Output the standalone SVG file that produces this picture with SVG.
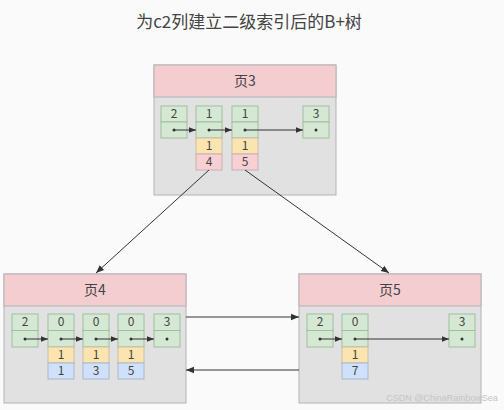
<svg xmlns="http://www.w3.org/2000/svg" width="504" height="410" viewBox="0 0 504 410">
<defs>
<marker id="ah" viewBox="0 0 10 10" refX="10" refY="5" markerWidth="7" markerHeight="7" orient="auto" markerUnits="userSpaceOnUse"><path d="M0,1 L10,5 L0,9 z" fill="#333"/></marker>
<marker id="ah2" viewBox="0 0 10 10" refX="10" refY="5" markerWidth="8" markerHeight="8" orient="auto" markerUnits="userSpaceOnUse"><path d="M0,1 L10,5 L0,9 z" fill="#333"/></marker>
</defs>
<style>
text{font-family:"Noto Sans CJK SC","Noto Sans",sans-serif;fill:#444;text-anchor:middle}
.t{font-size:12px}
.h{font-size:14px}
.hdr{fill:#f4cdd0;stroke:#b3b3b3;stroke-width:1}
.body{fill:#e1e1e1;stroke:#b3b3b3;stroke-width:1}
.g{fill:#d5e8d4;stroke:#9fbf9f;stroke-width:1}
.o{fill:#fce4b0;stroke:#c8c0a8;stroke-width:1}
.p{fill:#f8cfd2;stroke:#c8b0b2;stroke-width:1}
.b{fill:#cfe0fb;stroke:#a8b8d0;stroke-width:1}
.dot{fill:#333}
.ln{stroke:#333;stroke-width:1;fill:none}
</style>
<rect width="504" height="410" fill="#fafafa"/>
<text x="249" y="28" style="font-size:17px">为c2列建立二级索引后的B+树</text>

<g id="page3">
<rect class="body" x="154" y="65" width="182" height="130"/>
<rect class="hdr" x="154" y="65" width="182" height="32"/>
<text class="h" x="245" y="86">页3</text>
<rect class="g" x="161" y="106" width="26" height="16"/><rect class="g" x="161" y="122" width="26" height="16"/>
<text class="t" x="174" y="118">2</text><circle class="dot" cx="174" cy="130" r="1.5"/>
<rect class="g" x="196" y="106" width="26" height="16"/><rect class="g" x="196" y="122" width="26" height="16"/>
<rect class="o" x="196" y="138" width="26" height="16"/><rect class="p" x="196" y="154" width="26" height="16"/>
<text class="t" x="209" y="118">1</text><circle class="dot" cx="209" cy="130" r="1.5"/>
<text class="t" x="209" y="150">1</text><text class="t" x="209" y="166">4</text>
<rect class="g" x="232" y="106" width="26" height="16"/><rect class="g" x="232" y="122" width="26" height="16"/>
<rect class="o" x="232" y="138" width="26" height="16"/><rect class="p" x="232" y="154" width="26" height="16"/>
<text class="t" x="245" y="118">1</text><circle class="dot" cx="245" cy="130" r="1.5"/>
<text class="t" x="245" y="150">1</text><text class="t" x="245" y="166">5</text>
<rect class="g" x="303" y="106" width="26" height="16"/><rect class="g" x="303" y="122" width="26" height="16"/>
<text class="t" x="316" y="118">3</text><circle class="dot" cx="316" cy="130" r="1.5"/>
</g>

<g id="page4">
<rect class="body" x="4" y="274" width="182" height="129"/>
<rect class="hdr" x="4" y="274" width="182" height="32"/>
<text class="h" x="95" y="295">页4</text>
<rect class="g" x="12" y="314" width="26" height="16.5"/><rect class="g" x="12" y="330.5" width="26" height="16.5"/>
<text class="t" x="25" y="326">2</text><circle class="dot" cx="25" cy="339" r="1.5"/>
<rect class="g" x="48" y="314" width="26" height="16.5"/><rect class="g" x="48" y="330.5" width="26" height="16.5"/>
<rect class="o" x="48" y="347" width="26" height="16"/><rect class="b" x="48" y="363" width="26" height="16"/>
<text class="t" x="61" y="326">0</text><circle class="dot" cx="61" cy="339" r="1.5"/>
<text class="t" x="61" y="359">1</text><text class="t" x="61" y="375">1</text>
<rect class="g" x="83" y="314" width="26" height="16.5"/><rect class="g" x="83" y="330.5" width="26" height="16.5"/>
<rect class="o" x="83" y="347" width="26" height="16"/><rect class="b" x="83" y="363" width="26" height="16"/>
<text class="t" x="96" y="326">0</text><circle class="dot" cx="96" cy="339" r="1.5"/>
<text class="t" x="96" y="359">1</text><text class="t" x="96" y="375">3</text>
<rect class="g" x="118" y="314" width="26" height="16.5"/><rect class="g" x="118" y="330.5" width="26" height="16.5"/>
<rect class="o" x="118" y="347" width="26" height="16"/><rect class="b" x="118" y="363" width="26" height="16"/>
<text class="t" x="131" y="326">0</text><circle class="dot" cx="131" cy="339" r="1.5"/>
<text class="t" x="131" y="359">1</text><text class="t" x="131" y="375">5</text>
<rect class="g" x="154" y="314" width="26" height="16.5"/><rect class="g" x="154" y="330.5" width="26" height="16.5"/>
<text class="t" x="167" y="326">3</text><circle class="dot" cx="167" cy="339" r="1.5"/>
</g>

<g id="page5">
<rect class="body" x="299" y="274" width="182" height="129"/>
<rect class="hdr" x="299" y="274" width="182" height="32"/>
<text class="h" x="390" y="295">页5</text>
<rect class="g" x="307" y="314" width="26" height="16.5"/><rect class="g" x="307" y="330.5" width="26" height="16.5"/>
<text class="t" x="320" y="326">2</text><circle class="dot" cx="320" cy="339" r="1.5"/>
<rect class="g" x="342" y="314" width="26" height="16.5"/><rect class="g" x="342" y="330.5" width="26" height="16.5"/>
<rect class="o" x="342" y="347" width="26" height="16"/><rect class="b" x="342" y="363" width="26" height="16"/>
<text class="t" x="355" y="326">0</text><circle class="dot" cx="355" cy="339" r="1.5"/>
<text class="t" x="355" y="359">1</text><text class="t" x="355" y="375">7</text>
<rect class="g" x="449" y="314" width="26" height="16.5"/><rect class="g" x="449" y="330.5" width="26" height="16.5"/>
<text class="t" x="462" y="326">3</text><circle class="dot" cx="462" cy="339" r="1.5"/>
</g>

<g id="connectors">
<line class="ln" x1="174" y1="130" x2="196" y2="130" marker-end="url(#ah)"/>
<line class="ln" x1="209" y1="130" x2="232" y2="130" marker-end="url(#ah)"/>
<line class="ln" x1="245" y1="130" x2="303" y2="130" marker-end="url(#ah)"/>
<line class="ln" x1="25" y1="339" x2="48" y2="339" marker-end="url(#ah)"/>
<line class="ln" x1="61" y1="339" x2="83" y2="339" marker-end="url(#ah)"/>
<line class="ln" x1="96" y1="339" x2="118" y2="339" marker-end="url(#ah)"/>
<line class="ln" x1="131" y1="339" x2="154" y2="339" marker-end="url(#ah)"/>
<line class="ln" x1="320" y1="339" x2="342" y2="339" marker-end="url(#ah)"/>
<line class="ln" x1="355" y1="339" x2="449" y2="339" marker-end="url(#ah)"/>
<line class="ln" x1="209" y1="170" x2="96" y2="273" marker-end="url(#ah2)"/>
<line class="ln" x1="245" y1="170" x2="389" y2="273" marker-end="url(#ah2)"/>
<line class="ln" x1="186" y1="317" x2="299" y2="317" marker-end="url(#ah2)"/>
<line class="ln" x1="299" y1="370" x2="186" y2="370" marker-end="url(#ah2)"/>
</g>
<text x="442" y="401" style="font-size:9px;fill:#c4c4c4;font-family:'Liberation Sans',sans-serif">CSDN @ChinaRainbowSea</text>
</svg>
